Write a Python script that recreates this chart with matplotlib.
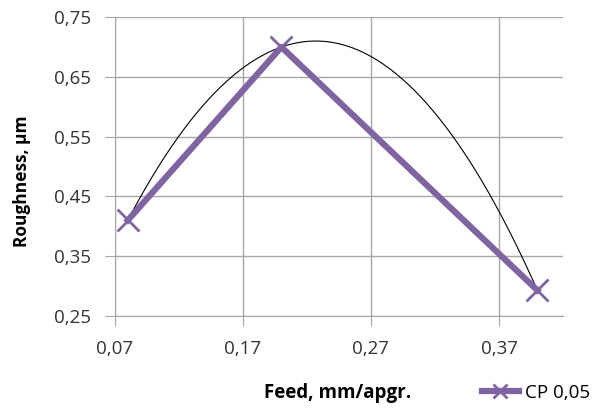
import numpy as np
import matplotlib
matplotlib.use("Agg")
import matplotlib.pyplot as plt
from matplotlib.ticker import FuncFormatter

plt.rcParams['font.family'] = ['Open Sans', 'DejaVu Sans']

# data
feed = [0.08, 0.20, 0.40]
roughness = [0.41, 0.70, 0.293]
x_ticks = [0.07, 0.17, 0.27, 0.37]
y_ticks = [0.25, 0.35, 0.45, 0.55, 0.65, 0.75]

purple = '#8064A2'

fig = plt.figure(figsize=(6.05, 4.08), dpi=100)
ax = fig.add_axes([0.190, 0.2255, 0.7406, 0.7325])

# polynomial (order 2) trend line as in the original
coef = np.polyfit(feed, roughness, 2)
xs = np.linspace(feed[0], feed[-1], 200)
ax.plot(xs, np.polyval(coef, xs), color='black', lw=0.8, zorder=2)

ax.plot(feed, roughness, color=purple, lw=4.5, marker='x', markersize=16,
        markeredgewidth=2, label='CP 0,05', zorder=3)

ax.set_xlim(0.07, 0.42)
ax.set_ylim(0.25, 0.75)
ax.set_xticks(x_ticks)
ax.set_yticks(y_ticks)
fmt = FuncFormatter(lambda v, p: ('%.2f' % v).replace('.', ','))
ax.xaxis.set_major_formatter(fmt)
ax.yaxis.set_major_formatter(fmt)
ax.grid(True, color='#a6a6a6', lw=1)
ax.set_axisbelow(True)
for s in ['top', 'right']:
    ax.spines[s].set_visible(False)
for s in ['left', 'bottom']:
    ax.spines[s].set_color('#a6a6a6')
ax.tick_params(length=7, color='#a6a6a6', labelsize=13.5, pad=10, labelcolor='#333333')

fig.text(0.036, 0.555, 'Roughness, µm', fontsize=12.5, fontweight='bold',
         rotation=90, ha='center', va='center')
fig.text(0.558, 0.037, 'Feed, mm/apgr.', fontsize=13.5, fontweight='bold', ha='center', va='center')
fig.legend(loc='center right', bbox_to_anchor=(0.975, 0.037), frameon=False, fontsize=13.5,
           handlelength=2.0, handletextpad=0.3, markerscale=0.6, borderaxespad=0, borderpad=0)

fig.savefig('out.png', dpi=100)
